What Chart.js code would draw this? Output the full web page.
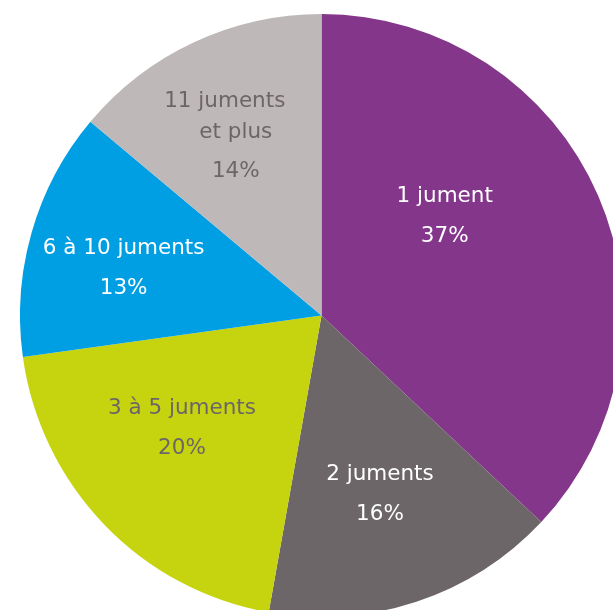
<!DOCTYPE html>
<html>
<head>
<meta charset="utf-8">
<script src="https://cdn.jsdelivr.net/npm/chart.js@4"></script>
<style>
  html, body { margin: 0; padding: 0; background: #fff; overflow: hidden; width: 613px; height: 610px; }
  #wrap { position: absolute; left: 20px; top: 14px; width: 603px; height: 603px; }
</style>
</head>
<body>
<div id="wrap"><canvas id="pie"></canvas></div>
<script>
// Répartition des élevages selon le nombre de juments
const categories = ['1 jument', '2 juments', '3 à 5 juments', '6 à 10 juments', '11 juments\net plus'];
const shares = [37.0, 15.8, 20.0, 13.3, 13.9]; // shown rounded: 37, 16, 20, 13, 14
const colors = ['#84368b', '#6d6668', '#c5d40e', '#009fe3', '#beb8b9'];
const textColors = ['#ffffff', '#ffffff', '#6d6668', '#ffffff', '#6d6668'];

// label placement: fraction of radius and angle tweak (degrees) per slice
const labelRadius = [0.525, 0.625, 0.595, 0.675, 0.66];
const labelTurn = [-15.5, 0.3, 5, -2.5, -0.5];

const sliceLabels = {
  id: 'sliceLabels',
  afterDatasetsDraw(chart) {
    const ctx = chart.ctx;
    const arcs = chart.getDatasetMeta(0).data;
    ctx.save();
    ctx.font = '21.5px "DejaVu Sans", Verdana, sans-serif';
    ctx.textAlign = 'center';
    ctx.textBaseline = 'middle';
    arcs.forEach((arc, i) => {
      const mid = (arc.startAngle + arc.endAngle) / 2 + labelTurn[i] * Math.PI / 180;
      const r = arc.outerRadius * labelRadius[i];
      const x = arc.x + Math.cos(mid) * r;
      const y = arc.y + Math.sin(mid) * r;
      const lines = categories[i].split('\n');
      lines.push(Math.round(shares[i]) + '%');
      ctx.fillStyle = textColors[i];
      if (lines.length === 2) {
        ctx.fillText(lines[0], x, y - 20);
        ctx.fillText(lines[1], x, y + 20);
      } else {
        // three-line label: first line sits a little left, tighter first gap
        ctx.fillText(lines[0], x - 11, y - 35);
        ctx.fillText(lines[1], x, y - 3.5);
        ctx.fillText(lines[2], x, y + 35.5);
      }
    });
    ctx.restore();
  }
};

new Chart(document.getElementById('pie'), {
  type: 'pie',
  data: {
    labels: categories,
    datasets: [{
      data: shares,
      backgroundColor: colors,
      borderWidth: 0,
    }],
  },
  options: {
    responsive: true,
    maintainAspectRatio: false,
    animation: false,
    layout: { padding: 0 },
    plugins: {
      legend: { display: false },
      tooltip: { enabled: false },
    },
  },
  plugins: [sliceLabels],
});
</script>
</body>
</html>
